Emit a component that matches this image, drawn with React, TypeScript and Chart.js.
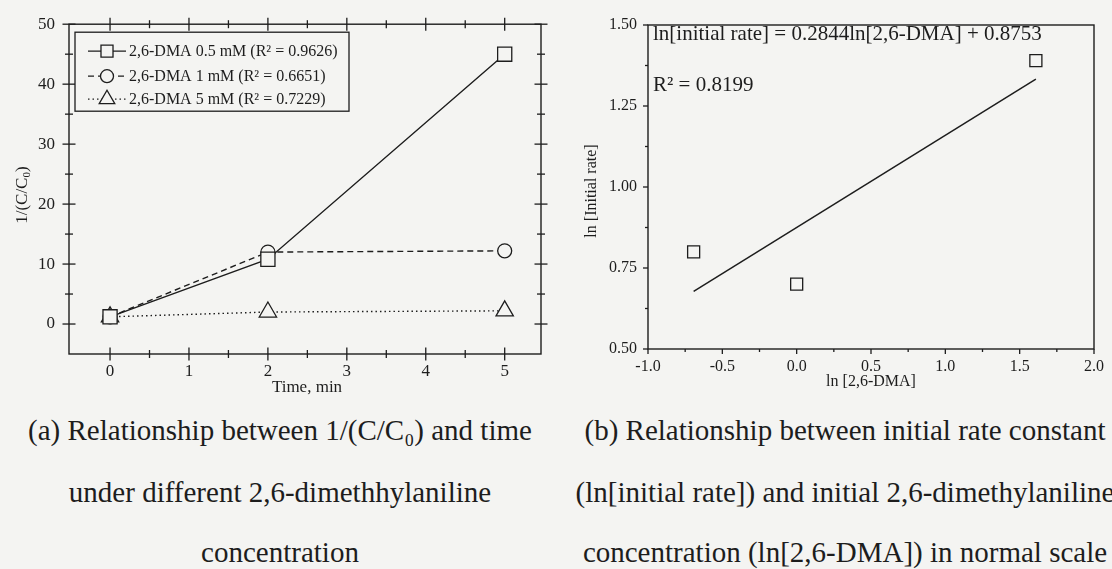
import { useEffect, useRef } from "react";
import { Chart, registerables } from "chart.js";

Chart.register(...registerables);

// ---- Panel (a): 1/(C/C0) against time for three 2,6-DMA doses ----
const timeMin = [0, 2, 5];
const dma05mM = [1.2, 10.8, 45];
const dma1mM = [1.2, 12, 12.2];
const dma5mM = [1.2, 2, 2.2];
const seriesNames = [
  "2,6-DMA 0.5 mM (R² = 0.9626)",
  "2,6-DMA 1 mM (R² = 0.6651)",
  "2,6-DMA 5 mM (R² = 0.7229)",
];
const timeTicks = [0, 1, 2, 3, 4, 5];
const timeMinorTicks = [0.5, 1.5, 2.5, 3.5, 4.5];
const invTicks = [0, 10, 20, 30, 40, 50];
const invMinorTicks = [5, 15, 25, 35, 45];

// ---- Panel (b): ln(initial rate) against ln[2,6-DMA] ----
const lnDma = [-0.693, 0, 1.609];
const lnRate = [0.8, 0.7, 1.39];
const fitLnDma = [-0.693, 1.609];
const fitLnRate = [0.678, 1.333];
const lnDmaTicks = [-1, -0.5, 0, 0.5, 1, 1.5, 2];
const lnDmaMinorTicks = [-0.75, -0.25, 0.25, 0.75, 1.25, 1.75];
const lnRateTicks = [0.5, 0.75, 1, 1.25, 1.5];
const lnRateMinorTicks = [0.625, 0.875, 1.125, 1.375];
const fitEquation = "ln[initial rate] = 0.2844ln[2,6-DMA] + 0.8753";
const fitR2 = "R² = 0.8199";

const captionA = [
  "(a) Relationship between 1/(C/C₀) and time",
  "under different 2,6-dimethhylaniline",
  "concentration",
];
const captionB = [
  "(b) Relationship between initial rate constant",
  "(ln[initial rate]) and initial 2,6-dimethylaniline",
  "concentration (ln[2,6-DMA]) in normal scale",
];

const INK = "#1d1d1d";
const PAPER = "#f4f4f2";
const SERIF = '"Liberation Serif", "Times New Roman", serif';

type Marks = {
  xMajor: number[];
  xMinor: number[];
  yMajor: number[];
  yMinor: number[];
  mirror: boolean;
  majorIn: number;
  majorOut: number;
  minorIn: number;
  minorOut: number;
};

function seg(ctx: CanvasRenderingContext2D, x1: number, y1: number, x2: number, y2: number) {
  ctx.beginPath();
  ctx.moveTo(x1, y1);
  ctx.lineTo(x2, y2);
  ctx.stroke();
}

// Box around the plot area plus major/minor tick marks placed by the scales
function drawFrame(chart: Chart, m: Marks) {
  const { ctx, chartArea: a } = chart;
  const xs = chart.scales.x;
  const ys = chart.scales.y;
  ctx.save();
  ctx.strokeStyle = INK;
  ctx.lineWidth = 1.4;
  ctx.strokeRect(a.left, a.top, a.right - a.left, a.bottom - a.top);
  ctx.lineWidth = 1.3;
  const xMark = (v: number, inn: number, out: number) => {
    const p = xs.getPixelForValue(v);
    seg(ctx, p, a.bottom - inn, p, a.bottom + out);
    if (m.mirror) seg(ctx, p, a.top - out, p, a.top + inn);
  };
  const yMark = (v: number, inn: number, out: number) => {
    const p = ys.getPixelForValue(v);
    seg(ctx, a.left - out, p, a.left + inn, p);
    if (m.mirror) seg(ctx, a.right - inn, p, a.right + out, p);
  };
  m.xMajor.forEach((v) => xMark(v, m.majorIn, m.majorOut));
  m.xMinor.forEach((v) => xMark(v, m.minorIn, m.minorOut));
  m.yMajor.forEach((v) => yMark(v, m.majorIn, m.majorOut));
  m.yMinor.forEach((v) => yMark(v, m.minorIn, m.minorOut));
  ctx.restore();
}

function shape(ctx: CanvasRenderingContext2D, kind: string, x: number, y: number, r: number) {
  ctx.beginPath();
  if (kind === "rect") {
    const s = r * Math.SQRT1_2;
    ctx.rect(x - s, y - s, 2 * s, 2 * s);
  } else if (kind === "circle") {
    ctx.arc(x, y, r, 0, Math.PI * 2);
  } else {
    const h = r * Math.sin(Math.PI / 3);
    ctx.moveTo(x, y - r);
    ctx.lineTo(x + h, y + r / 2);
    ctx.lineTo(x - h, y + r / 2);
    ctx.closePath();
  }
  ctx.fillStyle = PAPER;
  ctx.fill();
  ctx.stroke();
}

const seriesStyles = [
  { dash: [] as number[], marker: "rect", radius: 10, legendRadius: 8.5 },
  { dash: [6, 4], marker: "circle", radius: 7, legendRadius: 6.5 },
  { dash: [1.5, 3], marker: "triangle", radius: 10, legendRadius: 9 },
];

function drawLegend(chart: Chart) {
  const { ctx, chartArea: a } = chart;
  const bx = a.left + 6;
  const by = a.top + 8;
  const bw = 274;
  const bh = 79;
  ctx.save();
  ctx.fillStyle = PAPER;
  ctx.fillRect(bx, by, bw, bh);
  ctx.strokeStyle = INK;
  ctx.lineWidth = 1.3;
  ctx.strokeRect(bx, by, bw, bh);
  const rows = [19, 44, 67];
  seriesNames.forEach((name, i) => {
    const st = seriesStyles[i];
    const y = by + rows[i];
    ctx.strokeStyle = INK;
    ctx.lineWidth = 1.3;
    ctx.setLineDash(st.dash);
    seg(ctx, bx + 13, y, bx + 51, y);
    ctx.setLineDash([]);
    shape(ctx, st.marker, bx + 32, y, st.legendRadius);
    ctx.fillStyle = INK;
    ctx.font = `16px ${SERIF}`;
    ctx.textBaseline = "middle";
    ctx.textAlign = "left";
    ctx.fillText(name, bx + 54, y + 1);
  });
  ctx.restore();
}

// Centered text with an optional subscript run, e.g. C with a subscript 0
function drawRuns(
  ctx: CanvasRenderingContext2D,
  runs: { t: string; sub?: boolean }[],
  size: number,
) {
  ctx.textAlign = "left";
  let total = 0;
  runs.forEach((r) => {
    ctx.font = `${r.sub ? size * 0.65 : size}px ${SERIF}`;
    total += ctx.measureText(r.t).width;
  });
  let x = -total / 2;
  runs.forEach((r) => {
    ctx.font = `${r.sub ? size * 0.65 : size}px ${SERIF}`;
    ctx.fillText(r.t, x, r.sub ? size * 0.25 : 0);
    x += ctx.measureText(r.t).width;
  });
}

function tickFont(size: number) {
  return { family: SERIF, size };
}

function App() {
  const leftRef = useRef<HTMLCanvasElement | null>(null);
  const rightRef = useRef<HTMLCanvasElement | null>(null);

  useEffect(() => {
    const series = [dma05mM, dma1mM, dma5mM];
    const left = new Chart(leftRef.current as HTMLCanvasElement, {
      type: "scatter",
      data: {
        datasets: series.map((vals, i) => ({
          label: seriesNames[i],
          data: timeMin.map((t, j) => ({ x: t, y: vals[j] })),
          showLine: true,
          borderColor: INK,
          borderWidth: 1.4,
          borderDash: seriesStyles[i].dash,
          pointStyle: seriesStyles[i].marker as any,
          pointRadius: seriesStyles[i].radius,
          pointBorderWidth: 1.3,
          pointBorderColor: INK,
          pointBackgroundColor: PAPER,
        })),
      },
      options: {
        animation: false,
        responsive: false,
        events: [],
        layout: { padding: { left: 0, top: 22, right: 19, bottom: 0 } },
        plugins: { legend: { display: false }, tooltip: { enabled: false } },
        scales: {
          x: {
            type: "linear",
            min: -0.52,
            max: 5.46,
            grid: { display: false, drawTicks: false },
            border: { display: false },
            afterBuildTicks: (s: any) => {
              s.ticks = timeTicks.map((value) => ({ value }));
            },
            afterFit: (s: any) => {
              s.height = 46;
            },
            ticks: {
              padding: 7,
              color: INK,
              font: tickFont(17),
              maxRotation: 0,
              autoSkip: false,
              callback: (v: any) => String(v),
            },
          },
          y: {
            type: "linear",
            min: -5,
            max: 50,
            grid: { display: false, drawTicks: false },
            border: { display: false },
            afterBuildTicks: (s: any) => {
              s.ticks = invTicks.map((value) => ({ value }));
            },
            afterFit: (s: any) => {
              s.width = 69;
            },
            ticks: {
              padding: 14,
              color: INK,
              font: tickFont(17),
              autoSkip: false,
              callback: (v: any) => String(v),
            },
          },
        },
      },
      plugins: [
        {
          id: "panelA",
          afterDatasetsDraw(chart: Chart) {
            drawFrame(chart, {
              xMajor: timeTicks,
              xMinor: timeMinorTicks,
              yMajor: invTicks,
              yMinor: invMinorTicks,
              mirror: true,
              majorIn: 6.5,
              majorOut: 6.5,
              minorIn: 4,
              minorOut: 4,
            });
            drawLegend(chart);
            const { ctx, chartArea: a } = chart;
            ctx.save();
            ctx.fillStyle = INK;
            ctx.textBaseline = "middle";
            ctx.translate((a.left + a.right) / 2 + 2, a.bottom + 34);
            drawRuns(ctx, [{ t: "Time, min" }], 17);
            ctx.restore();
            ctx.save();
            ctx.fillStyle = INK;
            ctx.textBaseline = "middle";
            ctx.translate(a.left - 46, (a.top + a.bottom) / 2 + 6);
            ctx.rotate(-Math.PI / 2);
            drawRuns(ctx, [{ t: "1/(C/C" }, { t: "0", sub: true }, { t: ")" }], 17);
            ctx.restore();
          },
        },
      ],
    });

    const right = new Chart(rightRef.current as HTMLCanvasElement, {
      type: "scatter",
      data: {
        datasets: [
          {
            label: "ln[initial rate]",
            data: lnDma.map((x, i) => ({ x, y: lnRate[i] })),
            showLine: false,
            pointStyle: "rect",
            pointRadius: 8.5,
            pointBorderWidth: 1.3,
            pointBorderColor: INK,
            pointBackgroundColor: PAPER,
          },
          {
            label: "fit",
            data: fitLnDma.map((x, i) => ({ x, y: fitLnRate[i] })),
            showLine: true,
            borderColor: INK,
            borderWidth: 1.5,
            pointRadius: 0,
          },
        ],
      },
      options: {
        animation: false,
        responsive: false,
        events: [],
        layout: { padding: { left: 0, top: 25, right: 14, bottom: 0 } },
        plugins: { legend: { display: false }, tooltip: { enabled: false } },
        scales: {
          x: {
            type: "linear",
            min: -1,
            max: 2,
            grid: { display: false, drawTicks: false },
            border: { display: false },
            afterBuildTicks: (s: any) => {
              s.ticks = lnDmaTicks.map((value) => ({ value }));
            },
            afterFit: (s: any) => {
              s.height = 51;
            },
            ticks: {
              padding: 8,
              color: INK,
              font: tickFont(16),
              maxRotation: 0,
              autoSkip: false,
              callback: (v: any) => Number(v).toFixed(1),
            },
          },
          y: {
            type: "linear",
            min: 0.5,
            max: 1.5,
            grid: { display: false, drawTicks: false },
            border: { display: false },
            afterBuildTicks: (s: any) => {
              s.ticks = lnRateTicks.map((value) => ({ value }));
            },
            afterFit: (s: any) => {
              s.width = 88;
            },
            ticks: {
              padding: 11,
              color: INK,
              font: tickFont(16),
              autoSkip: false,
              callback: (v: any) => Number(v).toFixed(2),
            },
          },
        },
      },
      plugins: [
        {
          id: "panelB",
          afterDatasetsDraw(chart: Chart) {
            drawFrame(chart, {
              xMajor: lnDmaTicks,
              xMinor: lnDmaMinorTicks,
              yMajor: lnRateTicks,
              yMinor: lnRateMinorTicks,
              mirror: false,
              majorIn: 0,
              majorOut: 5,
              minorIn: 0,
              minorOut: 3,
            });
            const { ctx, chartArea: a } = chart;
            ctx.save();
            ctx.fillStyle = INK;
            ctx.textBaseline = "middle";
            ctx.textAlign = "left";
            ctx.font = `21px ${SERIF}`;
            ctx.fillText(fitEquation, a.left + 5, a.top + 9);
            ctx.fillText(fitR2, a.left + 5, a.top + 60);
            ctx.restore();
            ctx.save();
            ctx.fillStyle = INK;
            ctx.textBaseline = "middle";
            ctx.translate((a.left + a.right) / 2, a.bottom + 33);
            drawRuns(ctx, [{ t: "ln [2,6-DMA]" }], 16);
            ctx.restore();
            ctx.save();
            ctx.fillStyle = INK;
            ctx.textBaseline = "middle";
            ctx.translate(a.left - 56, (a.top + a.bottom) / 2 + 4);
            ctx.rotate(-Math.PI / 2);
            drawRuns(ctx, [{ t: "ln [Initial rate]" }], 16);
            ctx.restore();
          },
        },
      ],
    });

    return () => {
      left.destroy();
      right.destroy();
    };
  }, []);

  const captionStyle = (cx: number, top: number): React.CSSProperties => ({
    position: "absolute",
    left: cx - 400,
    width: 800,
    top,
    textAlign: "center",
    fontFamily: SERIF,
    fontSize: 29,
    lineHeight: "34px",
    color: INK,
    whiteSpace: "nowrap",
  });
  const lineTops = [413, 475, 535];

  return (
    <div
      style={{
        position: "absolute",
        left: 0,
        top: 0,
        width: 1112,
        height: 569,
        overflow: "hidden",
        background: PAPER,
      }}
    >
      <canvas
        ref={leftRef}
        width={560}
        height={400}
        style={{ position: "absolute", left: 0, top: 0 }}
      />
      <canvas
        ref={rightRef}
        width={552}
        height={400}
        style={{ position: "absolute", left: 560, top: 0 }}
      />
      {captionA.map((line, i) => (
        <div key={"a" + i} style={captionStyle(280, lineTops[i])}>
          {line}
        </div>
      ))}
      {captionB.map((line, i) => (
        <div key={"b" + i} style={captionStyle(845, lineTops[i])}>
          {line}
        </div>
      ))}
    </div>
  );
}

export default App;
